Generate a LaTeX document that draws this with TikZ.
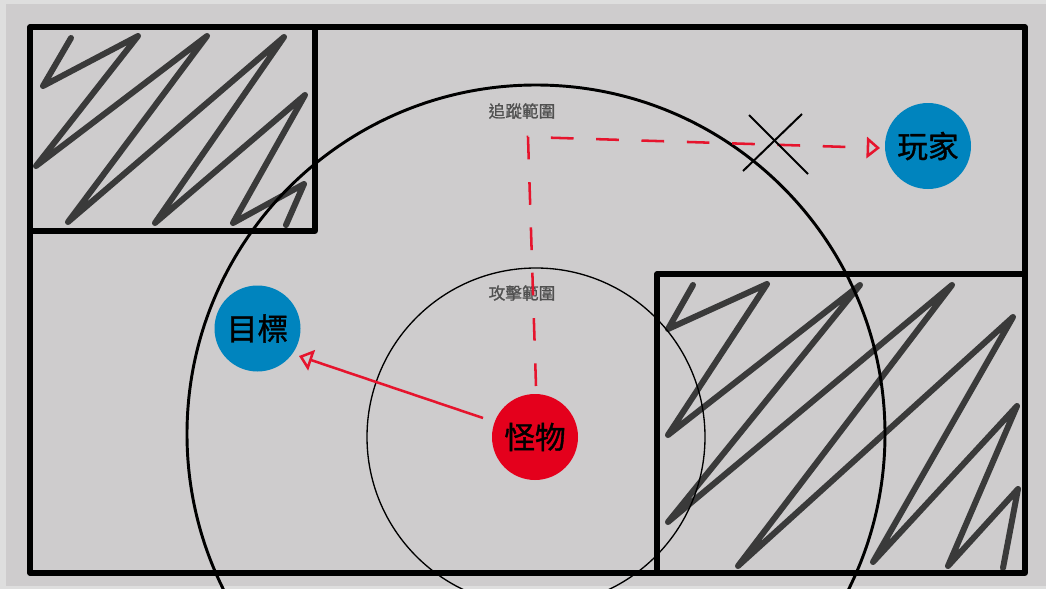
\documentclass[tikz,border=0pt]{standalone}
\usepackage{fontspec}
\newfontfamily\cjk[FakeBold=1.2]{Noto Sans CJK TC}
\newfontfamily\cjklbl[FakeBold=0.8]{Noto Sans CJK TC}
\usetikzlibrary{arrows.meta}
\definecolor{bggray}{RGB}{206,204,205}
\definecolor{margingray}{RGB}{222,222,222}
\definecolor{zig}{RGB}{58,58,58}
\definecolor{mred}{RGB}{228,0,28}
\definecolor{lred}{RGB}{230,20,45}
\definecolor{pblue}{RGB}{0,132,190}
\definecolor{lblgray}{RGB}{80,80,80}
\tikzset{
  frame/.style={line width=3.8pt, line join=round, line cap=round},
  zigline/.style={draw=zig, line width=4.5pt, line cap=round, line join=round},
  ring/.style={draw=black, line width=2.2pt},
  thinring/.style={draw=black, line width=1pt},
  actor/.style={circle, minimum size=64.5pt, inner sep=0pt, font=\cjk\fontsize{23}{25}\selectfont, text=black},
  rangelbl/.style={font=\cjklbl\fontsize{12.5}{14}\selectfont, text=lblgray, inner sep=0pt},
  redline/.style={draw=lred, line width=1.9pt, -{Triangle[open,length=10pt,width=16pt,line width=1.9pt]}},
  reddash/.style={redline, dash pattern=on 17pt off 17pt},
  cross/.style={draw=black, line width=1.5pt}
}
\begin{document}
\begin{tikzpicture}[x=0.75pt,y=-0.75pt]
\useasboundingbox (0,0) rectangle (1046,589);
\fill[margingray] (0,0) rectangle (1046,589);
\fill[bggray] (6,4) rectangle (1046,586);
% zigzags
\draw[zigline] (71,38) -- (43,86) -- (138,36) -- (36,166) -- (207,36) -- (68,222) -- (284,37) -- (155,223) -- (305,95) -- (233,223) -- (304,184) -- (286,225);
\draw[zigline] (693,285) -- (668,329) -- (767,284) -- (668,435) -- (860,285) -- (668,522) -- (952,285) -- (738,566) -- (1013,317) -- (873,562) -- (1017,406) -- (948,566) -- (1018,489) -- (1003,568);
% frame and boxes
\draw[frame] (30,27) rectangle (1025,573);
\draw[frame] (30,231) -- (315,231) -- (315,27);
\draw[frame] (657,573) -- (657,274) -- (1025,274);
% ranges
\draw[ring] (536,434) circle[radius=349];
\draw[thinring] (536,437) circle[radius=169];
\node[rangelbl] (chase) at (522,111) {追蹤範圍};
\node[rangelbl] (attack) at (522,293) {攻擊範圍};
% actors
\node[actor, fill=mred] (monster) at (535,437) {怪物};
\node[actor, fill=pblue] (target) at (257.5,328.5) {目標};
\node[actor, fill=pblue] (player) at (928,146) {玩家};
% connectors
\coordinate (mtop) at (536,386);
\coordinate (corner) at (528,137);
\coordinate (pend) at (880,148);
\coordinate (mleft) at (483,418);
\coordinate (tend) at (299,356);
\draw[reddash] (mtop) -- (corner) -- (pend);
\draw[redline] (mleft) -- (tend);
% cross
\coordinate (c1a) at (749,115); \coordinate (c1b) at (808,174);
\coordinate (c2a) at (802,114); \coordinate (c2b) at (743,171);
\draw[cross] (c1a) -- (c1b);
\draw[cross] (c2a) -- (c2b);
\end{tikzpicture}
\end{document}
